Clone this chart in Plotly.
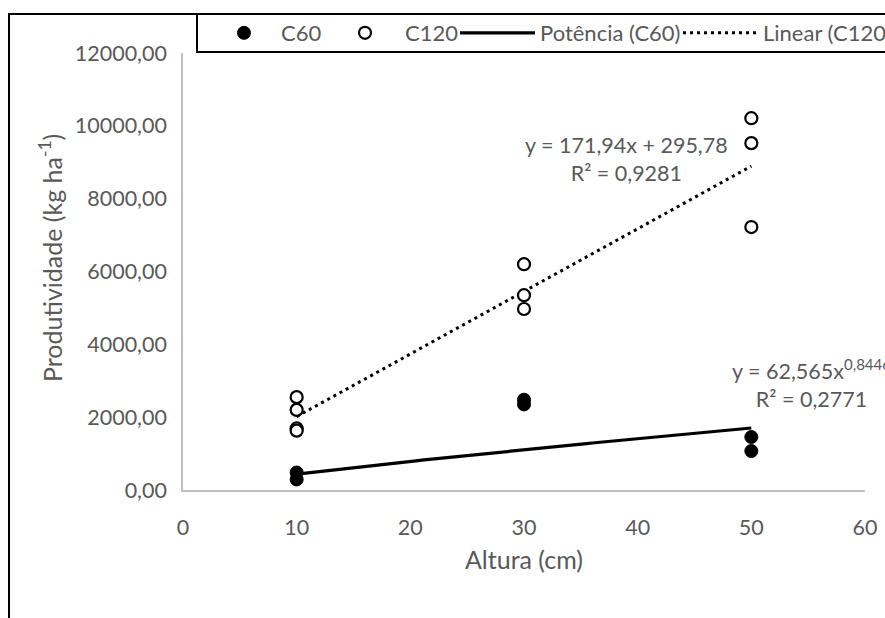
import numpy as np
import plotly.graph_objects as go

# ---- data ----
c60_x = [10, 10, 30, 30, 50, 50]
c60_y = [480, 290, 2480, 2350, 1455, 1070]

c120_x = [10, 10, 10, 10, 30, 30, 30, 50, 50, 50]
c120_y = [2550, 2200, 1690, 1630, 6200, 5350, 4970, 10210, 9525, 7220]

# trendline equations shown on the chart
lin_slope, lin_intercept = 171.94, 295.78
pow_coef, pow_exp = 62.565, 0.8446
trend_x_min, trend_x_max = 10, 50

x_ticks = [0, 10, 20, 30, 40, 50, 60]
y_ticks = [0, 2000, 4000, 6000, 8000, 10000, 12000]

FONT = "Lato"
GRAY = "#595959"
FS = 21.5      # tick labels / equations
FS_LEG = 22    # legend
FS_TITLE = 25  # axis titles

tx = np.linspace(trend_x_min, trend_x_max, 81)
pow_y = pow_coef * tx ** pow_exp
lin_y = lin_slope * tx + lin_intercept

fig = go.Figure()
fig.add_trace(go.Scatter(x=tx, y=pow_y, mode="lines", name="Potência (C60)",
                         line=dict(color="black", width=3.2), legend="legend3"))
fig.add_trace(go.Scatter(x=tx, y=lin_y, mode="lines", name="Linear (C120)",
                         line=dict(color="black", width=3, dash="3px,4px"), legend="legend4"))
fig.add_trace(go.Scatter(x=c60_x, y=c60_y, mode="markers", name="C60",
                         marker=dict(color="black", size=13, line=dict(color="black", width=1)),
                         legend="legend"))
fig.add_trace(go.Scatter(x=c120_x, y=c120_y, mode="markers", name="C120",
                         marker=dict(color="white", size=12, line=dict(color="black", width=2.2)),
                         legend="legend2"))

W, H = 885, 618
L, R, T, B = 183, 20, 53, 128
pw, ph = W - L - R, H - T - B


def px_x(p):
    return (p - L) / pw


def px_y(p):
    return (H - B - p) / ph


legfont = dict(family=FONT, size=FS_LEG, color=GRAY)


def leg(left_px, itemwidth):
    return dict(x=px_x(left_px), y=px_y(33), xanchor="left", yanchor="middle",
                orientation="h", bgcolor="rgba(0,0,0,0)", borderwidth=0,
                font=legfont, itemwidth=itemwidth)


fig.update_layout(
    width=W, height=H,
    margin=dict(l=L, r=R, t=T, b=B, autoexpand=False),
    paper_bgcolor="white", plot_bgcolor="white",
    separators=",.",
    showlegend=True,
    legend=leg(281 - 74, 64),
    legend2=leg(405 - 80, 70),
    legend3=leg(540 - 85, 75),
    legend4=leg(763 - 85, 75),
    xaxis=dict(range=[0, 60], tickvals=x_ticks, showgrid=False, zeroline=False,
               showline=True, linecolor="#BFBFBF", linewidth=1.5, ticks="",
               tickfont=dict(family=FONT, size=FS, color=GRAY), ticklabelstandoff=17,
               title=dict(text="Altura (cm)", font=dict(family=FONT, size=FS_TITLE, color=GRAY),
                          standoff=13)),
    yaxis=dict(range=[0, 12000], tickvals=y_ticks, tickformat=".2f", showgrid=False,
               zeroline=False, showline=True, linecolor="#BFBFBF", linewidth=1.5, ticks="",
               tickfont=dict(family=FONT, size=FS, color=GRAY), ticklabelstandoff=10),
    shapes=[
        dict(type="rect", xref="paper", yref="paper", x0=px_x(9), x1=px_x(900),
             y0=px_y(640), y1=px_y(14), line=dict(color="black", width=2), layer="above"),
        dict(type="rect", xref="paper", yref="paper", x0=px_x(197), x1=px_x(900),
             y0=px_y(52), y1=px_y(14), line=dict(color="black", width=2), layer="above"),
    ],
    annotations=[
        dict(text="Produtividade (kg ha<sup>-1</sup>)", textangle=-90, xref="paper", yref="paper",
             x=px_x(50), y=px_y(258), xanchor="center", yanchor="middle", showarrow=False,
             font=dict(family=FONT, size=FS_TITLE, color=GRAY)),
        dict(text="y = 171,94x + 295,78<br>R² = 0,9281", xref="paper", yref="paper",
             x=px_x(626), y=px_y(159), xanchor="center", yanchor="middle", align="center",
             showarrow=False, font=dict(family=FONT, size=FS, color=GRAY)),
        dict(text="y = 62,565x<sup>0,8446</sup><br>R² = 0,2771", xref="paper", yref="paper",
             x=px_x(811), y=px_y(383), xanchor="center", yanchor="middle", align="center",
             showarrow=False, font=dict(family=FONT, size=FS, color=GRAY)),
    ],
)

fig.write_html("out.html")
